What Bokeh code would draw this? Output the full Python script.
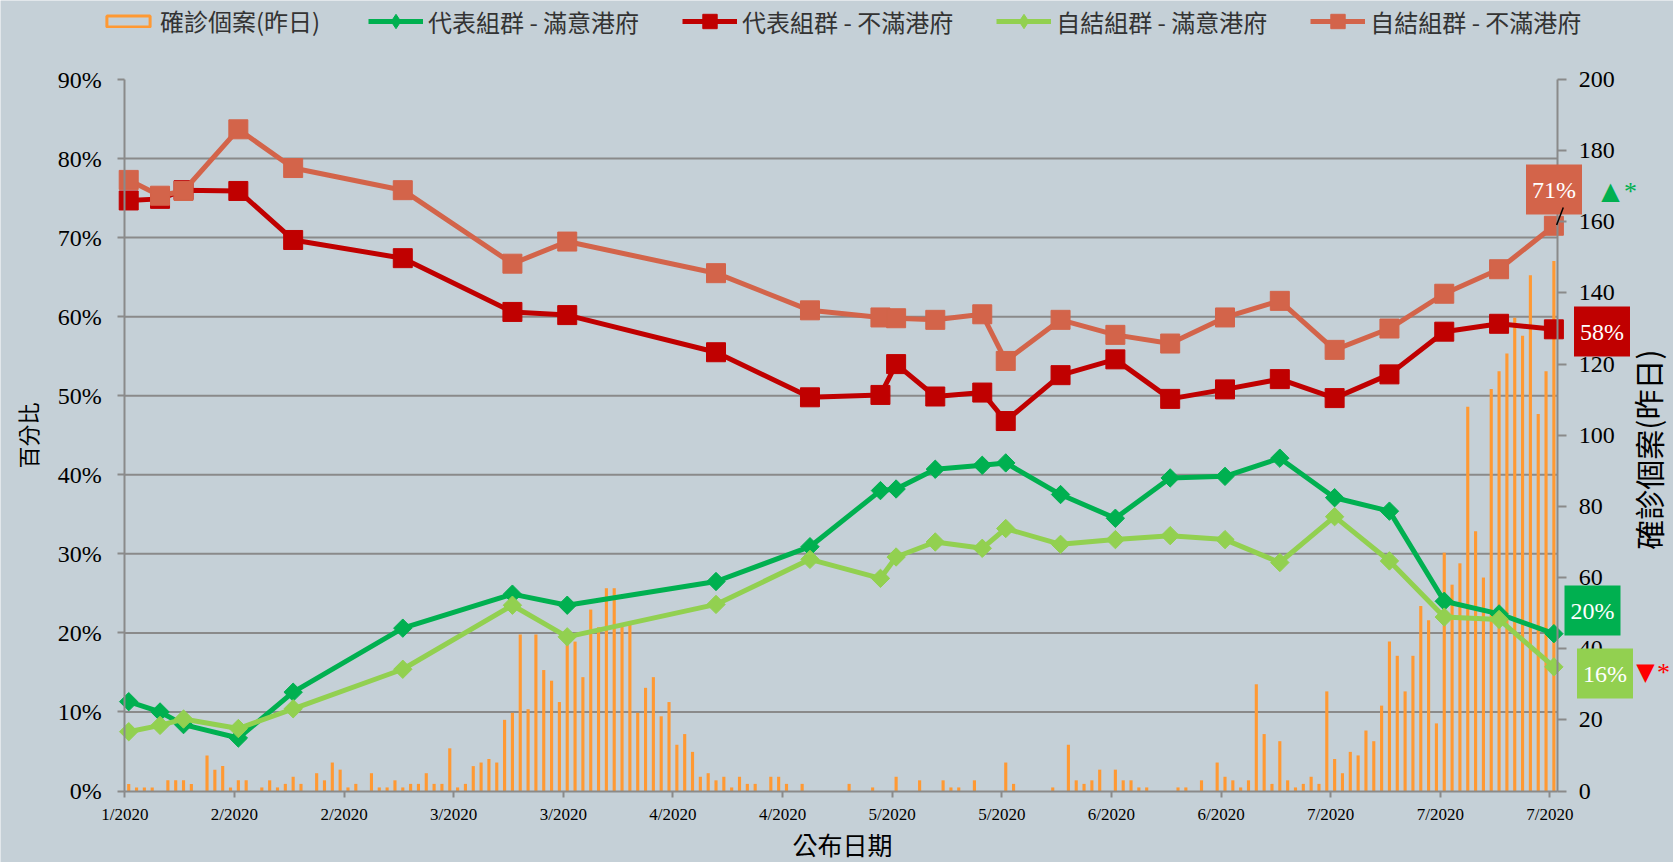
from bokeh.plotting import figure
from bokeh.models import (Range1d, LinearAxis, FixedTicker, Legend, LegendItem, Label, Arrow)
from bokeh.embed import file_html
from bokeh.resources import INLINE

# ---------------- data ----------------
# daily confirmed cases (previous day), one value per day starting 2020-01-30
cases = [2, 1, 1, 1, 0, 3, 3, 3, 2, 0,
         10, 6, 7, 1, 3, 3, 0, 1, 3, 1,
         2, 4, 2, 0, 5, 3, 8, 6, 1, 2,
         0, 5, 1, 1, 3, 1, 2, 2, 5, 2,
         2, 12, 1, 2, 7, 8, 9, 8, 20, 22,
         44, 23, 44, 34, 31, 25, 42, 42, 32, 51,
         46, 57, 57, 47, 47, 22, 29, 32, 21, 25,
         13, 16, 11, 4, 5, 3, 4, 1, 4, 2,
         2, 0, 4, 4, 2, 0, 2, 0, 0, 0,
         0, 0, 2, 0, 0, 1, 0, 0, 4, 0,
         0, 3, 0, 0, 3, 1, 1, 0, 3, 0,
         0, 0, 8, 2, 0, 0, 0, 0, 1, 0,
         13, 3, 2, 3, 6, 0, 6, 3, 3, 1,
         1, 0, 0, 0, 1, 1, 0, 3, 0, 8,
         4, 3, 1, 3, 30, 16, 2, 14, 3, 1,
         2, 4, 2, 28, 9, 5, 11, 10, 17, 14,
         24, 42, 38, 28, 38, 52, 48, 19, 67, 58,
         64, 108, 73, 60, 113, 118, 123, 133, 128, 145,
         106, 118, 149]

# survey days (days after 2020-01-30)
survey_day = [0, 4, 7, 14, 21, 35, 49, 56, 75, 87, 96, 98, 103, 109, 112,
              119, 126, 133, 140, 147, 154, 161, 168, 175, 182]
rep_sat = [11.3, 10.0, 8.4, 6.7, 12.5, 20.6, 24.9, 23.5, 26.5, 30.9, 38.0, 38.2, 40.7,
           41.2, 41.5, 37.5, 34.5, 39.6, 39.8, 42.1, 37.1, 35.4, 24.0, 22.4, 19.9]
rep_dis = [74.7, 74.9, 76.0, 75.9, 69.7, 67.4, 60.6, 60.2, 55.5, 49.8, 50.1, 54.0, 49.9,
           50.4, 46.8, 52.6, 54.6, 49.6, 50.8, 52.1, 49.7, 52.7, 58.1, 59.1, 58.4]
self_sat = [7.5, 8.3, 9.1, 7.9, 10.4, 15.4, 23.5, 19.5, 23.6, 29.3, 26.9, 29.6, 31.5,
            30.7, 33.2, 31.2, 31.8, 32.3, 31.8, 28.9, 34.7, 29.1, 22.0, 21.7, 15.7]
self_dis = [77.3, 75.3, 75.9, 83.7, 78.8, 76.0, 66.7, 69.5, 65.5, 60.8, 59.9, 59.8, 59.6,
            60.3, 54.4, 59.6, 57.7, 56.6, 59.9, 62.0, 55.8, 58.5, 62.9, 66.0, 71.5]

series_names = ["代表組群 - 滿意港府", "代表組群 - 不滿港府", "自結組群 - 滿意港府", "自結組群 - 不滿港府"]
bar_name = "確診個案(昨日)"
x_title = "公布日期"
y_title = "百分比"

n_days = 183
tick_days = [0, 14, 28, 42, 56, 70, 84, 98, 112, 126, 140, 154, 168, 182]
tick_labels = ["1/2020", "2/2020", "2/2020", "3/2020", "3/2020", "4/2020", "4/2020",
               "5/2020", "5/2020", "6/2020", "6/2020", "7/2020", "7/2020", "7/2020"]
pct_ticks = [0, 10, 20, 30, 40, 50, 60, 70, 80, 90]
case_ticks = [0, 20, 40, 60, 80, 100, 120, 140, 160, 180, 200]

end_labels = ["20%", "58%", "16%", "71%"]   # same order as series_names

# ---------------- style ----------------
BG = "#C5D0D7"
GRID = "#8A8A8A"
C_BAR = "#FF9933"
C_RS = "#00B050"
C_RD = "#C00000"
C_SS = "#92D050"
C_SD = "#D3644A"
SERIF = "Liberation Serif"
CJK = "Noto Sans CJK TC"

W, H = 1673, 862
# plot-area geometry (pixels) used to size the ranges so the frame is the whole canvas
AX_L, AX_R, AX_T, AX_B = 124.3, 1557.3, 79.0, 790.5
ppd = (AX_R - AX_L) / n_days
ppp = (AX_B - AX_T) / pct_ticks[-1]
ppc = (AX_B - AX_T) / case_ticks[-1]


def dx(px):
    return (px - AX_L) / ppd


def dy(py):
    return (AX_B - py) / ppp


p = figure(width=W, height=H, output_backend="svg", toolbar_location=None,
           x_range=Range1d(-AX_L / ppd, (W - AX_L) / ppd),
           y_range=Range1d(-(H - AX_B) / ppp, pct_ticks[-1] + AX_T / ppp),
           min_border=0, min_border_left=0, min_border_right=0,
           min_border_top=0, min_border_bottom=0,
           background_fill_color=BG, border_fill_color=BG, outline_line_color=None)
p.extra_y_ranges = {"cases": Range1d(-(H - AX_B) / ppc, case_ticks[-1] + AX_T / ppc)}
p.xgrid.visible = False
p.ygrid.visible = False

# horizontal gridlines only across the plot area
gl = pct_ticks[1:-1]
p.segment(x0=[0] * len(gl), x1=[n_days] * len(gl), y0=gl, y1=gl,
          line_color=GRID, line_width=2)

# bars
bx = [d + 0.5 for d in range(len(cases))]
p.vbar(x=bx, top=cases, width=0.4, bottom=0, y_range_name="cases",
       fill_color=C_BAR, line_color=None)
# legend-only outline box for the bar series (drawn far outside the view)
bar_leg = p.rect(x=[-1000], y=[-1000], width=1, height=1, fill_alpha=0,
                 line_color=C_BAR, line_width=3)

sx = [d + 0.5 for d in survey_day]
renderers = []
for vals, col, mk in [(rep_sat, C_RS, "d"), (rep_dis, C_RD, "s"),
                      (self_sat, C_SS, "d"), (self_dis, C_SD, "s")]:
    ln = p.line(sx, vals, line_color=col, line_width=5, line_join="round")
    if mk == "d":
        sc = p.scatter(sx, vals, marker="square", angle=0.7854, size=13, fill_color=col, line_color=col)
        # legend-only diamond marker (off-screen)
        lg = p.scatter([-1000], [-1000], marker="diamond", size=13, fill_color=col, line_color=col)
        renderers.append([ln, lg])
    else:
        sc = p.scatter(sx, vals, marker="square", size=19, fill_color=col, line_color=col)
        renderers.append([ln, sc])

# axes (fixed at the plot-area edges)
xa = p.xaxis[0]
xa.fixed_location = 0
xa.bounds = (0, n_days)
xa.ticker = FixedTicker(ticks=tick_days)
xa.major_label_overrides = {d: t for d, t in zip(tick_days, tick_labels)}
ya = p.yaxis[0]
ya.fixed_location = 0
ya.bounds = (pct_ticks[0], pct_ticks[-1])
ya.ticker = FixedTicker(ticks=pct_ticks)
ya.major_label_overrides = {v: f"{v}%" for v in pct_ticks}
ya.axis_label = y_title
ra = LinearAxis(y_range_name="cases", ticker=FixedTicker(ticks=case_ticks),
                fixed_location=n_days, bounds=(case_ticks[0], case_ticks[-1]))
p.add_layout(ra, "right")

for ax in (xa, ya, ra):
    ax.axis_line_color = GRID
    ax.axis_line_width = 2
    ax.major_tick_line_color = GRID
    ax.major_tick_line_width = 2
    ax.major_tick_in = 0
    ax.minor_tick_line_color = None
    ax.major_label_text_font = SERIF
    ax.major_label_text_color = "black"
    ax.axis_label_text_font = CJK
    ax.axis_label_text_font_style = "normal"
    ax.axis_label_text_color = "black"

xa.major_tick_out = 6
xa.major_label_standoff = 8
xa.major_label_text_font_size = "17px"
ya.major_tick_out = 7
ya.major_label_standoff = 16
ya.major_label_text_font_size = "24px"
ya.axis_label_text_font_size = "22px"
ya.axis_label_standoff = 12
ra.major_tick_out = 9
ra.major_label_standoff = 12
ra.major_label_text_font_size = "24px"

# x axis title
p.add_layout(Label(x=dx(842), y=dy(843), text=x_title, text_font=CJK, text_font_size="25px",
                   text_color="black", text_align="center", text_baseline="middle"))
# right axis title (reads bottom-to-top like the reference)
p.add_layout(Label(x=dx(1647), y=dy(449), text=bar_name, angle=1.5708,
                   text_font=CJK, text_font_size="30px", text_color="black",
                   text_align="center", text_baseline="middle"))

# end-value boxes
box_xy = [(1592.0, 610.0), (1601.5, 331.0), (1604.5, 673.0), (1553.5, 189.0)]
box_col = [C_RS, C_RD, C_SS, C_SD]
for (px, py), col, t in zip(box_xy, box_col, end_labels):
    p.add_layout(Label(x=dx(px), y=dy(py), text=t, text_font=SERIF,
                       text_font_size="24px", text_color="white", text_align="center",
                       text_baseline="middle", background_fill_color=col, padding=(6, 12)))

p.add_layout(Arrow(end=None, x_start=sx[-1] + 0.35, y_start=self_dis[-1] + 0.1,
                   x_end=sx[-1] + 1.2, y_end=self_dis[-1] + 2.3,
                   line_color="black", line_width=1.5))

marks = [("▲", C_RS, 1610, 190, "DejaVu Sans", "24px"), ("*", C_RS, 1630, 191, SERIF, "26px"),
         ("▼", "#FF0000", 1645, 671, "DejaVu Sans", "24px"), ("*", "#FF0000", 1663, 672, SERIF, "26px")]
for t, col, px, py, f, fs in marks:
    p.add_layout(Label(x=dx(px), y=dy(py), text=t, text_font=f,
                       text_font_size=fs, text_color=col, text_align="center", text_baseline="middle"))

# legends (bar item and line items use different glyph heights)
common = dict(orientation="horizontal", padding=0, margin=0, border_line_color=None,
              background_fill_alpha=0, label_text_font=CJK, label_text_font_size="24px",
              label_text_color="#333333", label_standoff=5, spacing=43)
leg1 = Legend(items=[LegendItem(label=bar_name, renderers=[bar_leg])],
              location=(101, H - 38), glyph_width=54, glyph_height=14, label_height=14, **common)
items = [LegendItem(label=name, renderers=rs) for name, rs in zip(series_names, renderers)]
leg2 = Legend(items=items, location=(368, H - 39), glyph_width=55, glyph_height=36,
              label_height=36, **common)
p.add_layout(leg1)
p.add_layout(leg2)

open("out.html", "w").write(file_html(p, INLINE))
